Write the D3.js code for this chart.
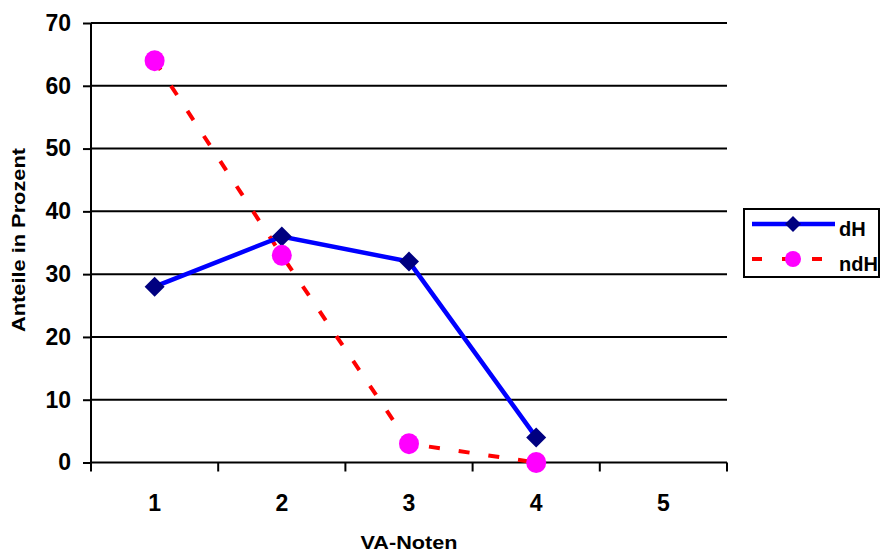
<!DOCTYPE html>
<html><head><meta charset="utf-8">
<script src="https://cdn.jsdelivr.net/npm/d3@7"></script>
<style>body{margin:0;background:#fff}svg{display:block}text{font-family:"Liberation Sans",Arial,sans-serif;font-weight:bold}</style>
</head><body>
<script>
const categories = ["1","2","3","4","5"];
const seriesNames = ["dH","ndH"];
const dH = [28, 36, 32, 4];
const ndH = [64, 33, 3, 0];
const yTicks = [0,10,20,30,40,50,60,70];

const W=881,H=552;
const L=91,R=727,T=23,B=462.5;
const svg=d3.select("body").append("svg").attr("width",W).attr("height",H);
const x=d3.scaleBand().domain(categories).range([L,R]).padding(0);
const y=d3.scaleLinear().domain([0,70]).range([B,T]);

// gridlines
svg.append("g").selectAll("line").data(yTicks.filter(d=>d>0)).join("line")
 .attr("x1",L).attr("x2",R).attr("y1",d=>y(d)).attr("y2",d=>y(d))
 .attr("stroke","#000").attr("stroke-width",2);

// y axis
const ya=svg.append("g").attr("transform",`translate(${L},0)`)
 .call(d3.axisLeft(y).tickValues(yTicks).tickSize(8).tickPadding(12).tickFormat(d3.format("d")));
ya.select(".domain").attr("stroke-width",2).attr("d",`M0,${T}V${B}`);
ya.selectAll(".tick line").attr("stroke-width",2);
ya.selectAll("text").attr("font-size",23).attr("font-family","Liberation Sans").attr("font-weight","bold").attr("fill","#000");

// x axis
const xa=svg.append("g").attr("transform",`translate(0,${B})`)
 .call(d3.axisBottom(x).tickSize(0).tickPadding(32));
xa.select(".domain").attr("stroke-width",2).attr("d",`M${L},0H${R}`);
xa.selectAll("text").attr("font-size",23).attr("font-family","Liberation Sans").attr("font-weight","bold").attr("fill","#000");
// x boundary ticks
const edges=categories.map(c=>x(c)).concat([x(categories[categories.length-1])+x.bandwidth()]);
svg.append("g").selectAll("line").data(edges).join("line")
 .attr("x1",d=>d).attr("x2",d=>d).attr("y1",B).attr("y2",B+9)
 .attr("stroke","#000").attr("stroke-width",2);

const cx=i=>x(categories[i])+x.bandwidth()/2;
const line=d3.line().x((d,i)=>cx(i)).y(d=>y(d));

// ndH dashed
svg.append("path").datum(ndH).attr("d",line).attr("fill","none")
 .attr("stroke","#ff0000").attr("stroke-width",4).attr("stroke-dasharray","11,19");
// dH
svg.append("path").datum(dH).attr("d",line).attr("fill","none")
 .attr("stroke","#0000ff").attr("stroke-width",4.5);
svg.append("g").selectAll("path").data(dH).join("path")
 .attr("transform",(d,i)=>`translate(${cx(i)},${y(d)})`)
 .attr("d","M0,-10L10,0L0,10L-10,0Z").attr("fill","#000080");
svg.append("g").selectAll("ellipse").data(ndH).join("ellipse")
 .attr("cx",(d,i)=>cx(i)).attr("cy",d=>y(d)).attr("rx",10).attr("ry",10.5).attr("fill","#ff00ff");

// axis titles
svg.append("text").attr("x",409).attr("y",549).attr("text-anchor","middle").attr("font-size",19)
 .attr("textLength",97).attr("lengthAdjust","spacingAndGlyphs").text("VA-Noten");
svg.append("text").attr("transform","translate(25,240) rotate(-90)").attr("text-anchor","middle").attr("font-size",18)
 .attr("textLength",184).attr("lengthAdjust","spacingAndGlyphs").text("Anteile in Prozent");

// legend
const lg=svg.append("g");
lg.append("rect").attr("x",744).attr("y",209).attr("width",135).attr("height",68).attr("fill","#fff").attr("stroke","#000").attr("stroke-width",2);
const ly=[224,259];
lg.append("line").attr("x1",752).attr("x2",835).attr("y1",ly[0]).attr("y2",ly[0]).attr("stroke","#0000ff").attr("stroke-width",4.5);
lg.append("path").attr("transform",`translate(793,${ly[0]})`).attr("d","M0,-8L8,0L0,8L-8,0Z").attr("fill","#000080");
lg.append("line").attr("x1",752).attr("x2",835).attr("y1",ly[1]).attr("y2",ly[1]).attr("stroke","#ff0000").attr("stroke-width",4).attr("stroke-dasharray","10,20");
lg.append("circle").attr("cx",793).attr("cy",ly[1]).attr("r",8).attr("fill","#ff00ff");
lg.selectAll("text.lt").data(seriesNames).join("text").attr("class","lt")
 .attr("x",839).attr("y",(d,i)=>ly[i]+12).attr("font-size",20).text(d=>d);
</script>
</body></html>
